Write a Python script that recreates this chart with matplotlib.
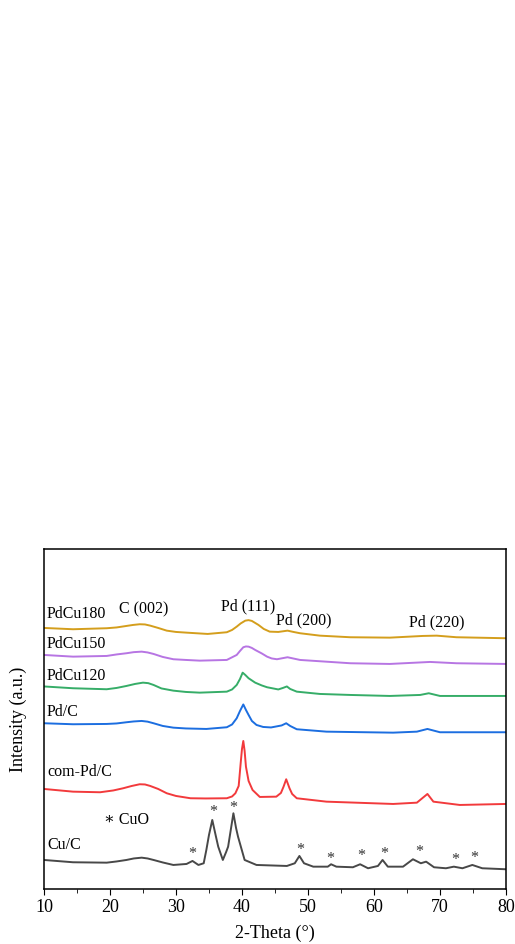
import matplotlib
matplotlib.use('Agg')
from matplotlib import pyplot as plt

plt.rcParams['font.family'] = ['Liberation Serif', 'DejaVu Serif']

# Данные (2θ и интенсивность, отн. ед.)
x_pdcu180 = [10.0, 14.4, 19.5, 21.0, 22.5, 23.5, 24.5, 25.3, 26.1, 27.3, 28.6, 30.0, 31.6, 34.8,
             37.7, 38.5, 39.2, 39.8, 40.5, 41.0, 41.5, 42.5, 43.3, 44.2, 45.5, 46.9, 47.8, 48.8,
             51.8, 56.4, 62.4, 67.4, 69.5, 72.5, 80.0]
y_pdcu180 = [261, 259.7, 260.7, 261.5, 263, 264, 264.7, 264.5, 263.3, 261, 258.3, 257, 256.3, 255,
             256.7, 259, 262.3, 265.5, 268.3, 268.8, 268, 264, 260, 257.3, 257, 258.3, 257, 255.7,
             253.3, 251.7, 251.3, 253, 253.3, 251.7, 250.7]

x_pdcu150 = [10.0, 14.4, 19.5, 21.0, 22.5, 23.6, 24.8, 25.7, 26.6, 28.0, 29.6, 31.5, 33.6, 37.7,
             39.2, 39.7, 40.2, 40.6, 41.0, 41.5, 42.0, 43.0, 43.8, 44.5, 45.3, 46.9, 48.8, 56.4,
             62.4, 68.5, 72.5, 80.0]
y_pdcu150 = [234, 232.3, 233, 234.5, 235.7, 236.8, 237.3, 236.5, 235, 232, 229.7, 229, 228.3, 229,
             234, 238, 241.7, 242.5, 242.3, 241, 239, 235.5, 232.3, 230.5, 229.7, 231.7, 229, 225.7,
             225, 227, 225.7, 225]

x_pdcu120 = [10.0, 14.4, 19.5, 21.0, 22.5, 23.8, 25.0, 25.8, 26.6, 27.8, 29.6, 31.5, 33.6, 37.7,
             38.5, 39.2, 39.7, 40.1, 40.5, 41.0, 41.5, 42.0, 43.0, 43.8, 45.5, 46.2, 46.8, 47.3,
             48.3, 51.8, 56.4, 62.4, 67.0, 68.3, 70.0, 80.0]
y_pdcu120 = [202.5, 200.7, 199.7, 201, 203, 205, 206.3, 205.8, 204, 200.5, 198.3, 197, 196.3, 197.3,
             199.5, 204, 210, 216.3, 214, 210.7, 208.5, 206.3, 203.5, 201.7, 199.5, 201, 202.5, 200,
             197.3, 195, 194, 193, 194, 195.7, 193, 193]

x_pdc = [10.0, 14.4, 19.5, 21.0, 22.5, 23.6, 24.8, 25.7, 26.6, 28.0, 29.6, 31.5, 34.6, 37.7, 38.5,
         39.2, 39.7, 40.2, 40.6, 41.0, 41.5, 42.2, 43.2, 44.4, 46.0, 46.7, 47.3, 48.3, 52.8, 62.9,
         66.5, 68.1, 70.0, 80.0]
y_pdc = [165.7, 164.7, 165, 165.5, 166.7, 167.5, 168, 167.3, 165.7, 163, 161.3, 160.5, 160, 161.7, 164.5,
         170.7, 178, 184.5, 179, 174, 168, 164, 162, 161.5, 163.5, 165.7, 163, 159.7, 157.3, 156.3,
         157.3, 160, 156.7, 156.7]

x_compdc = [10.0, 14.4, 18.5, 20.5, 22.0, 23.3, 24.5, 25.3, 26.1, 27.3, 28.6, 30.0, 32.2, 34.5,
            37.7, 38.5, 39.0, 39.5, 39.8, 40.0, 40.2, 40.4, 40.6, 41.0, 41.6, 42.7, 45.2, 45.9,
            46.3, 46.7, 47.2, 47.6, 48.3, 52.8, 62.9, 66.5, 68.1, 69.0, 73.0, 80.0]
y_compdc = [100, 97.3, 96.7, 98.5, 100.7, 103, 104.7, 104.5, 103, 100, 95.7, 93, 90.7, 90.5,
            90.7, 92.5, 95.7, 103, 125.7, 140, 148, 138, 122.3, 108, 99, 92, 92.3, 96,
            102.3, 109.7, 100.7, 95, 90.7, 87.3, 85, 86.3, 95, 87.3, 84, 85]

x_cuc = [10.0, 14.4, 19.5, 21.0, 22.5, 23.6, 24.8, 25.7, 26.6, 28.0, 29.6, 31.6, 32.5, 33.4, 34.2,
         34.6, 35.0, 35.5, 36.0, 36.4, 37.1, 37.6, 37.9, 38.3, 38.7, 39.1, 39.4, 40.4, 42.2,
         46.8, 48.0, 48.7, 49.4, 50.8, 53.0, 53.5, 54.3, 56.8, 57.9, 59.1, 60.6, 61.3, 62.1,
         64.4, 65.9, 67.1, 67.9, 69.1, 70.9, 72.1, 73.4, 74.9, 76.4, 80.0]
y_cuc = [29, 26.7, 26.3, 27.5, 29, 30.5, 31.3, 30.5, 29, 26.5, 24, 25, 28, 24, 25.7,
         39, 54, 69, 54, 42.3, 29, 37, 42.3, 59, 75.7, 61, 52.3, 29, 24,
         23, 25.7, 33, 25.7, 22.3, 22.3, 24.7, 22.3, 21.7, 24.7, 20.7, 23, 29, 22.3,
         22.3, 29.7, 25.7, 27.3, 21.7, 20.7, 22.3, 20.7, 24, 20.7, 19.7]

# Положения звёздочек CuO
star_x = [32.5, 35.6, 38.7, 48.8, 53.4, 58.0, 61.5, 66.9, 72.3, 75.2]
star_y = [35.3, 77, 80.7, 38.7, 30.3, 33, 34.7, 37.3, 29.3, 31.3]

# Подписи образцов и рефлексов
names = ['PdCu180', 'PdCu150', 'PdCu120', 'Pd/C', 'com-Pd/C', 'Cu/C']
name_y = [275, 244.7, 213.3, 177.3, 117.3, 44]
peaks = ['C (002)', 'Pd (111)', 'Pd (200)', 'Pd (220)']
peak_x = [21.4, 36.8, 45.15, 65.35]
peak_y = [279.7, 282.3, 268.3, 266.7]

fig = plt.figure(figsize=(5.15, 9.44), dpi=100)
ax = fig.add_axes([0.0854, 0.0583, 0.8971, 0.3602])

ax.plot(x_pdcu180, y_pdcu180, c='#d49e1c', lw=1.4)
ax.plot(x_pdcu150, y_pdcu150, c='#b775e3', lw=1.4)
ax.plot(x_pdcu120, y_pdcu120, c='#36ad68', lw=1.4)
ax.plot(x_pdc, y_pdc, c='#1c6ee0', lw=1.4)
ax.plot(x_compdc, y_compdc, c='#f23a3c', lw=1.4)
ax.plot(x_cuc, y_cuc, c='#484848', lw=1.4)

for name, yy in zip(names, name_y):
    ax.text(10.45, yy, name, fontsize=11.5, va='center', ha='left')
for p, px, py in zip(peaks, peak_x, peak_y):
    ax.text(px, py, p, fontsize=11.5, va='center', ha='left')
for sx, sy in zip(star_x, star_y):
    ax.text(sx, sy, '*', fontsize=11.5, va='center', ha='center', color='#333333')
ax.text(19.1, 69, '\u2217 CuO', fontsize=11.5, va='center', ha='left')

# Оформление осей
ax.set_xlim(10, 80)
ax.set_ylim(0, 340)
ax.set_xticks(range(10, 81, 10))
ax.set_xticks(range(15, 80, 10), minor=True)
ax.set_yticks([])
ax.tick_params(axis='x', which='major', direction='out', length=4, labelsize=13)
ax.tick_params(axis='x', which='minor', direction='out', length=3)
for s in ax.spines.values():
    s.set_linewidth(1.1)
ax.set_xlabel('2-Theta (°)', fontsize=13, labelpad=6)
ax.set_ylabel('Intensity (a.u.)', fontsize=13, labelpad=12)

plt.savefig('out.png', dpi=100)
